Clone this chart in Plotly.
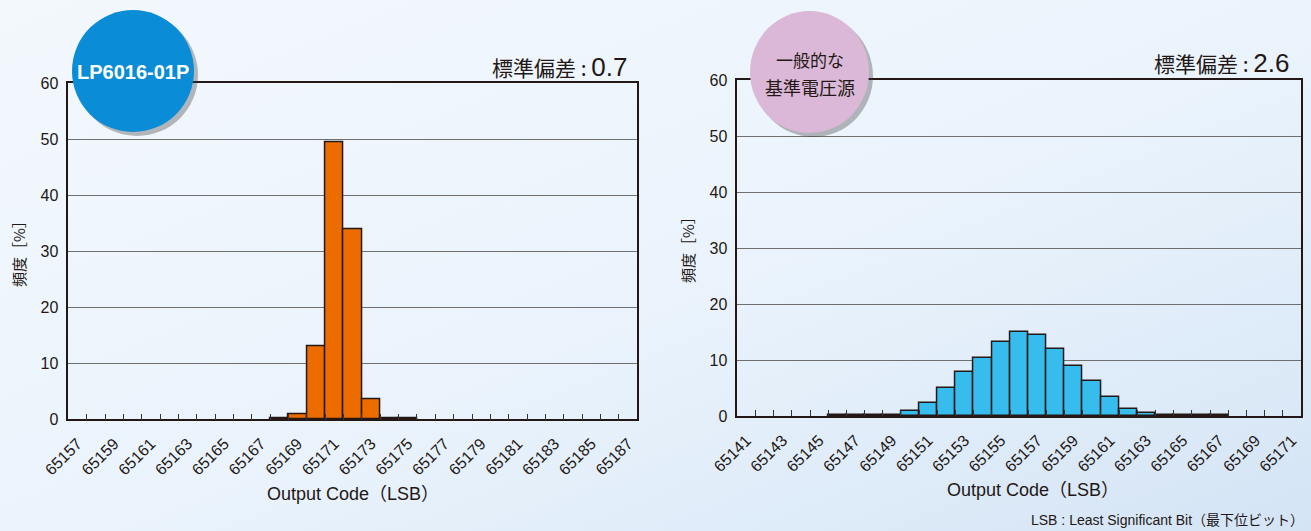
import base64
import plotly.graph_objects as go

# ---------------- data ----------------
left_codes = list(range(65157, 65188))
left_values = [0, 0, 0, 0, 0, 0, 0, 0, 0, 0, 0,
               0.2, 0.9, 13.1, 49.5, 34.0, 3.6, 0.2, 0.2,
               0, 0, 0, 0, 0, 0, 0, 0, 0, 0, 0, 0]
right_codes = list(range(65141, 65172))
right_values = [0, 0, 0, 0, 0,
                0.2, 0.2, 0.2, 0.2,
                0.9, 2.4, 5.0, 7.8, 10.3, 13.2, 15.0, 14.4, 11.9, 9.0, 6.25, 3.4, 1.25, 0.6,
                0.2, 0.2, 0.2, 0.2,
                0, 0, 0, 0]
left_ticklabels = [str(c) for c in left_codes[::2]]
right_ticklabels = [str(c) for c in right_codes[::2]]
y_ticks = [0, 10, 20, 30, 40, 50, 60]

W, H = 1311, 531
def px(x):
    return x / W
def py(y):
    return 1 - y / H

LAT = "Liberation Sans, Arial, Noto Sans CJK JP, sans-serif"
CJK = "Noto Sans CJK JP, Liberation Sans, sans-serif"
TXT = "#231815"

fig = go.Figure()
for codes, vals, col, xa, ya in [(left_codes, left_values, "#ec6c00", "x", "y"),
                                 (right_codes, right_values, "#36bdee", "x2", "y2")]:
    fig.add_trace(go.Bar(x=codes, y=vals, width=1,
                         marker=dict(color=col,
                                     line=dict(color="#231815",
                                               width=[1.5 if v > 0 else 0 for v in vals])),
                         xaxis=xa, yaxis=ya, showlegend=False, hoverinfo="x+y"))

def xaxis_cfg(codes, labels, domain, anchor):
    edges = [c + 0.5 for c in codes[:-1]]
    return dict(domain=domain, anchor=anchor, automargin=False,
                range=[codes[0] - 0.5, codes[-1] + 0.5],
                tickmode="array", tickvals=[int(s) for s in labels], ticktext=labels,
                tickangle=-45, ticks="", showgrid=False, zeroline=False,
                showline=True, linecolor="#231815", linewidth=1.5, mirror=True,
                tickfont=dict(family=LAT, size=16, color=TXT), ticklabelstandoff=7,
                minor=dict(tickmode="array", tickvals=edges, ticks="inside", ticklen=6,
                           tickcolor="#333333", tickwidth=1, showgrid=False))

def yaxis_cfg(domain, anchor):
    return dict(domain=domain, anchor=anchor, range=[0, 60], automargin=False,
                tickmode="array", tickvals=y_ticks, ticks="",
                showgrid=True, gridcolor="#6f6f6f", gridwidth=1.3,
                zeroline=False, showline=True, linecolor="#231815", linewidth=1.5, mirror=True,
                tickfont=dict(family=LAT, size=16, color=TXT), ticklabelstandoff=5)

# subtle background gradient (light top-left to bluer bottom-right)
svg = (f'<svg xmlns="http://www.w3.org/2000/svg" width="{W}" height="{H}">'
       '<defs><linearGradient id="g" x1="0" y1="0" x2="1" y2="1">'
       '<stop offset="0" stop-color="#f3f8fd"/><stop offset="0.55" stop-color="#eaf3fc"/>'
       '<stop offset="1" stop-color="#d4e4f5"/></linearGradient></defs>'
       f'<rect width="{W}" height="{H}" fill="url(#g)"/></svg>')
bg_src = "data:image/svg+xml;base64," + base64.b64encode(svg.encode()).decode()

fig.update_layout(
    width=W, height=H,
    margin=dict(l=0, r=0, t=0, b=0, autoexpand=False),
    paper_bgcolor="#ebf3fc", plot_bgcolor="white",
    bargap=0,
    xaxis=xaxis_cfg(left_codes, left_ticklabels, [px(68.3), px(637.2)], "y"),
    yaxis=yaxis_cfg([py(419.3), py(83.3)], "x"),
    xaxis2=xaxis_cfg(right_codes, right_ticklabels, [px(737.3), px(1301)], "y2"),
    yaxis2=yaxis_cfg([py(416), py(80)], "x2"),
    images=[dict(source=bg_src, xref="paper", yref="paper", x=0, y=1, sizex=1, sizey=1,
                 xanchor="left", yanchor="top", sizing="stretch", layer="below")],
)

shapes = []
for (x0, y0, x1, y1, col) in [(72, 10, 194, 132, "#0a8cd6"), (750, 11, 869, 133, "#dcb8d8")]:
    shapes.append(dict(type="circle", xref="paper", yref="paper",
                       x0=px(x0 + 4), x1=px(x1 + 4), y0=py(y1 + 4), y1=py(y0 + 4),
                       fillcolor="rgba(60,60,60,0.35)", line=dict(width=0), layer="above"))
    shapes.append(dict(type="circle", xref="paper", yref="paper",
                       x0=px(x0), x1=px(x1), y0=py(y1), y1=py(y0),
                       fillcolor=col, line=dict(width=0), layer="above"))
fig.update_layout(shapes=shapes)

def note(text, x, y, size, family=LAT, color=TXT, xanchor="center", angle=0):
    return dict(text=text, x=px(x), y=py(y), xref="paper", yref="paper",
                xanchor=xanchor, yanchor="middle", textangle=angle,
                showarrow=False, font=dict(family=family, size=size, color=color))

ann = [
    note("<b>LP6016-01P</b>", 133, 72, 20, color="white"),
    note("一般的な", 810, 60, 17, family=CJK),
    note("基準電圧源", 810, 87, 18, family=CJK),
    note('標準偏差 : <span style="font-family:Liberation Sans;font-size:26px">0.7</span>',
         629, 67, 21, family=CJK, xanchor="right"),
    note('標準偏差 : <span style="font-family:Liberation Sans;font-size:26px">2.6</span>',
         1291, 63, 21, family=CJK, xanchor="right"),
    note("頻度［%］", 18, 250, 15, family=CJK, angle=-90),
    note("頻度［%］", 688, 246, 15, family=CJK, angle=-90),
    note("Output Code（LSB）", 353, 494, 18),
    note("Output Code（LSB）", 1033, 490, 18),
    note("LSB : Least Significant Bit（最下位ビット）", 1306, 520, 14, xanchor="right"),
]
fig.update_layout(annotations=ann)

fig.write_html("out.html", config={"displayModeBar": False},
               post_script="document.body.style.margin='0';document.body.style.overflow='hidden';")
